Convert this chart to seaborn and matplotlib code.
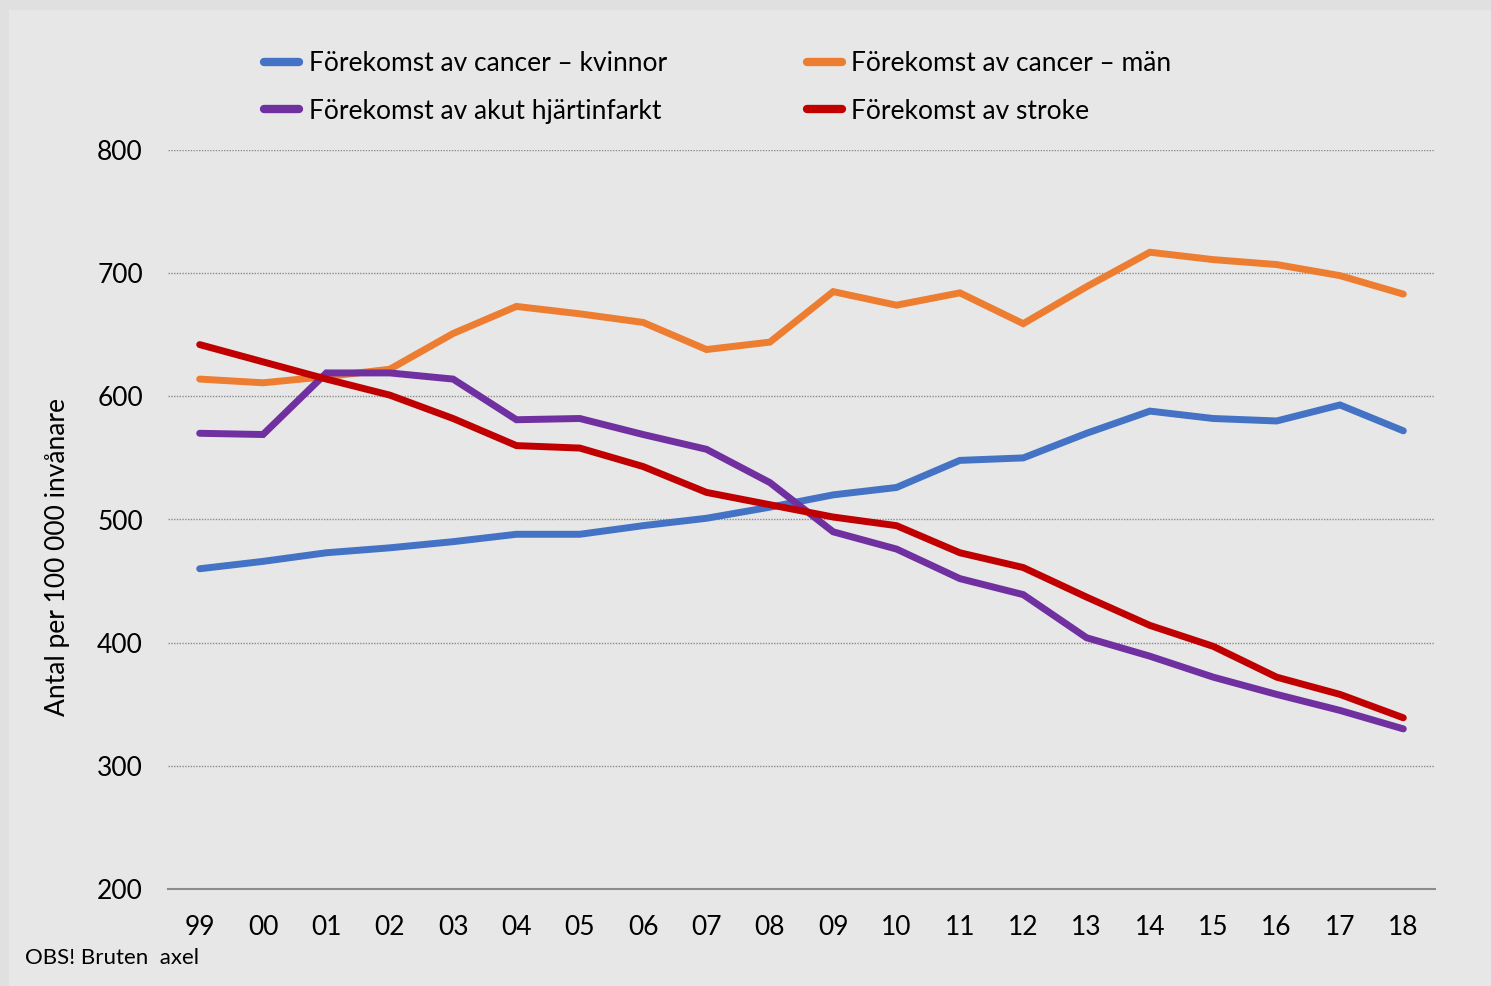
import matplotlib
matplotlib.use("Agg")
import matplotlib.pyplot as plt
import seaborn as sns
import pandas as pd
from matplotlib.patches import Rectangle
from matplotlib.lines import Line2D

years = ["99", "00", "01", "02", "03", "04", "05", "06", "07", "08",
         "09", "10", "11", "12", "13", "14", "15", "16", "17", "18"]

cancer_kvinnor = [460, 466, 473, 477, 482, 488, 488, 495, 501, 510,
                  520, 526, 548, 550, 570, 588, 582, 580, 593, 572]
cancer_man = [614, 611, 616, 622, 651, 673, 667, 660, 638, 644,
              685, 674, 684, 659, 689, 717, 711, 707, 698, 683]
hjartinfarkt = [570, 569, 619, 619, 614, 581, 582, 569, 557, 530,
                490, 476, 452, 439, 404, 389, 372, 358, 345, 330]
stroke = [642, 628, 614, 601, 582, 560, 558, 543, 522, 512,
          502, 495, 473, 461, 437, 414, 397, 372, 358, 339]

series_names = ["Förekomst av cancer – kvinnor", "Förekomst av cancer – män",
                "Förekomst av akut hjärtinfarkt", "Förekomst av stroke"]
colors = ["#4472C4", "#ED7D31", "#7030A0", "#C00000"]

rows = []
for name, vals in zip(series_names, [cancer_kvinnor, cancer_man, hjartinfarkt, stroke]):
    for i, (yr, v) in enumerate(zip(years, vals)):
        rows.append({"idx": i, "year": yr, "value": v, "serie": name})
df = pd.DataFrame(rows)

sns.set_theme(style="white")
plt.rcParams["font.family"] = ["Lato", "DejaVu Sans"]
plt.rcParams["text.color"] = "black"

fig = plt.figure(figsize=(14.91, 9.86), dpi=100)
fig.patch.set_facecolor("#e0e0e0")
bg = Rectangle((9 / 1491, 0), 1 - 9 / 1491, 1 - 10 / 986,
               transform=fig.transFigure, facecolor="#e7e7e7",
               edgecolor="none", zorder=-10)
fig.patches.append(bg)

ax = fig.add_axes([168 / 1491, 1 - 889 / 986, (1435 - 168) / 1491, (889 - 150) / 986])
ax.set_facecolor("none")
ax.set_zorder(5)

sns.lineplot(data=df, x="idx", y="value", hue="serie", hue_order=series_names,
             palette=colors, linewidth=5, ax=ax, legend=False,
             solid_capstyle="round", solid_joinstyle="miter")

ax.set_xlim(-0.5, len(years) - 0.5)
ax.set_ylim(200, 800)
ax.set_xticks(range(len(years)))
ax.set_xticklabels(years)
ax.set_yticks([200, 300, 400, 500, 600, 700, 800])
ax.tick_params(axis="both", length=0, labelsize=19, colors="black")
ax.tick_params(axis="x", pad=19)
ax.tick_params(axis="y", pad=18)
ax.set_xlabel("")
ax.set_ylabel("")
for y in [300, 400, 500, 600, 700, 800]:
    ax.axhline(y, color="#8c8c8c", linestyle=(0, (1, 1)), linewidth=1, zorder=0)
for s in ["top", "right", "left"]:
    ax.spines[s].set_visible(False)
ax.spines["bottom"].set_color("#8c8c8c")
ax.spines["bottom"].set_linewidth(1.5)

handles = [Line2D([0], [0], color=c, linewidth=6, solid_capstyle="round") for c in colors]
order = [0, 2, 1, 3]
leg = fig.legend([handles[i] for i in order], [series_names[i] for i in order],
                 ncol=2, loc="upper left", bbox_to_anchor=(240 / 1491, 1 - 27 / 986),
                 frameon=False, fontsize=19, handlelength=1.35, handletextpad=0.35,
                 columnspacing=5.3, labelspacing=0.87)
for t in leg.get_texts():
    t.set_color("black")

fig.text(58 / 1491, 1 - 557 / 986, "Antal per 100 000 invånare", rotation=90,
         ha="center", va="center", fontsize=19, color="black")
fig.text(25 / 1491, 1 - 958 / 986, "OBS! Bruten  axel", ha="left", va="center",
         fontsize=16, color="black")

fig.savefig("out.png", dpi=100, facecolor=fig.get_facecolor())
